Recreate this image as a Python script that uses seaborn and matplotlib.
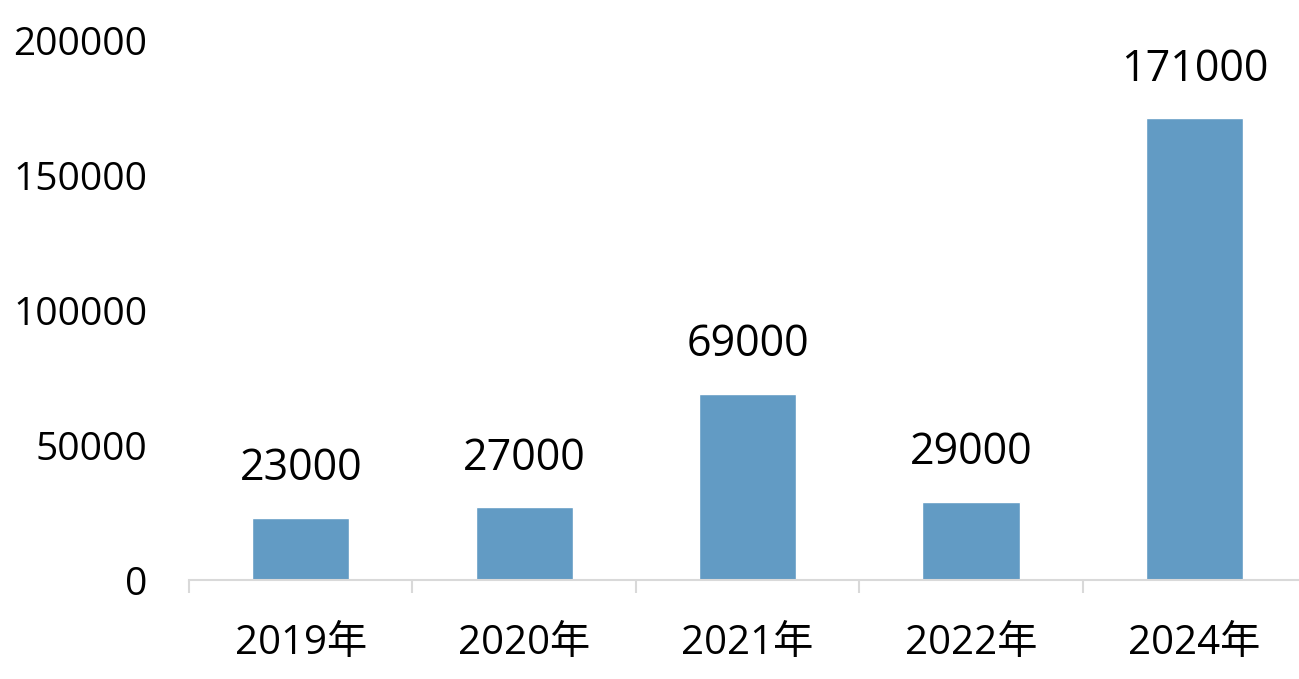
import numpy as np
import pandas as pd
import seaborn as sns
import matplotlib.pyplot as plt
from matplotlib.ticker import FixedLocator

years = ['2019年', '2020年', '2021年', '2022年', '2024年']
values = [23000, 27000, 69000, 29000, 171000]

df = pd.DataFrame({'year': years, 'value': values})

sns.set_style('white')
# Open Sans for the digits, CJK font picks up 年
plt.rcParams['font.family'] = ['Open Sans', 'Noto Sans CJK SC', 'DejaVu Sans']

fig = plt.figure(figsize=(12.99, 6.79), dpi=100)
# plot area runs a little past the right edge of the image
ax = fig.add_axes([0.1455, 0.1458, 0.86, 0.7952])

sns.barplot(data=df, x='year', y='value', color='#629BC4', width=0.435,
            saturation=1, ax=ax)

# value labels above the bars
for i, v in enumerate(values):
    ax.annotate(str(v), (i, v), xytext=(0, 27), textcoords='offset points',
                ha='center', va='baseline', fontsize=31, color='#000000')

ax.set_ylim(0, 200000)
ax.set_xlim(-0.5, len(years) - 0.5)
ax.set_yticks([0, 50000, 100000, 150000, 200000])
ax.set_xlabel('')
ax.set_ylabel('')

for s in ['top', 'right', 'left']:
    ax.spines[s].set_visible(False)
ax.spines['bottom'].set_color('#D9D9D9')
ax.spines['bottom'].set_linewidth(1.5)

ax.tick_params(axis='y', length=0, pad=30, labelsize=28, labelcolor='#000000')
ax.tick_params(axis='x', which='major', length=0, pad=31, labelsize=29,
               labelcolor='#000000')
ax.xaxis.set_minor_locator(FixedLocator(np.arange(-0.5, len(years), 1.0)))
ax.tick_params(axis='x', which='minor', bottom=True, length=9.5, width=1.5,
               color='#D9D9D9', direction='out')
ax.grid(False)

fig.savefig('out.png', dpi=100)
